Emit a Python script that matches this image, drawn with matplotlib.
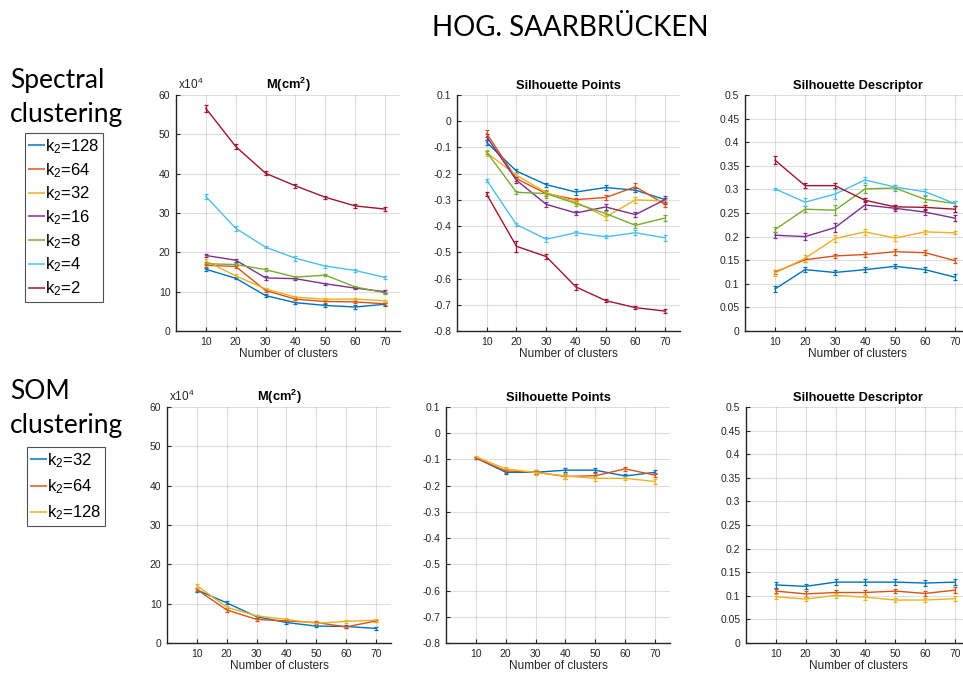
import matplotlib
matplotlib.use("Agg")
import matplotlib.pyplot as plt
from matplotlib.lines import Line2D

plt.rcParams["font.family"] = ["Liberation Sans", "DejaVu Sans"]
plt.rcParams["axes.unicode_minus"] = False
plt.rcParams["mathtext.fontset"] = "custom"
plt.rcParams["mathtext.rm"] = "Liberation Sans"
plt.rcParams["mathtext.it"] = "Liberation Sans:italic"
plt.rcParams["mathtext.bf"] = "Liberation Sans:bold"
plt.rcParams["mathtext.default"] = "regular"

# ---------------- data ----------------
clusters = [10, 20, 30, 40, 50, 60, 70]

spectral_labels = ["k$_2$=128", "k$_2$=64", "k$_2$=32", "k$_2$=16",
                   "k$_2$=8", "k$_2$=4", "k$_2$=2"]
spectral_colors = ["#0072BD", "#D95319", "#EDB120", "#7E2F8E",
                   "#77AC30", "#4DBEEE", "#A2142F"]

# M (cm^2), in units of 1e4
spec_m_128 = [15.7, 13.4, 9.0, 7.2, 6.5, 6.1, 6.8]
spec_m_64 = [16.7, 16.4, 10.3, 8.1, 7.5, 7.4, 6.9]
spec_m_32 = [17.8, 14.0, 10.7, 8.6, 8.1, 8.1, 7.7]
spec_m_16 = [19.2, 18.0, 13.5, 13.3, 12.0, 10.9, 10.0]
spec_m_8 = [17.1, 16.9, 15.6, 13.7, 14.2, 11.2, 9.7]
spec_m_4 = [34.2, 26.1, 21.3, 18.5, 16.5, 15.4, 13.6]
spec_m_2 = [56.6, 46.9, 40.1, 36.9, 34.0, 31.8, 31.0]

spec_m_err_128 = [0.4, 0.3, 0.3, 0.3, 0.3, 0.4, 0.5]
spec_m_err_64 = [0.4, 0.4, 0.3, 0.3, 0.3, 0.3, 0.3]
spec_m_err_32 = [0.5, 0.6, 0.3, 0.3, 0.3, 0.3, 0.3]
spec_m_err_16 = [0.3, 0.4, 0.6, 0.3, 0.3, 0.3, 0.3]
spec_m_err_8 = [0.4, 0.3, 0.3, 0.4, 0.3, 0.3, 0.3]
spec_m_err_4 = [0.7, 0.7, 0.3, 0.6, 0.4, 0.3, 0.4]
spec_m_err_2 = [0.8, 0.6, 0.5, 0.6, 0.4, 0.6, 0.4]

# Silhouette of points
spec_sp_128 = [-0.081, -0.190, -0.242, -0.270, -0.253, -0.263, -0.299]
spec_sp_64 = [-0.047, -0.219, -0.276, -0.299, -0.291, -0.250, -0.317]
spec_sp_32 = [-0.120, -0.206, -0.272, -0.308, -0.365, -0.300, -0.304]
spec_sp_16 = [-0.060, -0.225, -0.317, -0.350, -0.327, -0.356, -0.299]
spec_sp_8 = [-0.118, -0.271, -0.276, -0.314, -0.352, -0.397, -0.369]
spec_sp_4 = [-0.225, -0.394, -0.450, -0.425, -0.441, -0.425, -0.445]
spec_sp_2 = [-0.279, -0.477, -0.516, -0.632, -0.684, -0.711, -0.724]

spec_sp_err_128 = [0.008, 0.008, 0.007, 0.010, 0.009, 0.008, 0.008]
spec_sp_err_64 = [0.012, 0.008, 0.008, 0.008, 0.010, 0.013, 0.010]
spec_sp_err_32 = [0.012, 0.010, 0.008, 0.008, 0.010, 0.012, 0.008]
spec_sp_err_16 = [0.010, 0.012, 0.010, 0.008, 0.010, 0.010, 0.015]
spec_sp_err_8 = [0.006, 0.006, 0.015, 0.008, 0.008, 0.010, 0.010]
spec_sp_err_4 = [0.005, 0.006, 0.010, 0.008, 0.006, 0.010, 0.010]
spec_sp_err_2 = [0.008, 0.022, 0.010, 0.010, 0.006, 0.006, 0.007]

# Silhouette of descriptors
spec_sd_128 = [0.089, 0.130, 0.124, 0.130, 0.137, 0.130, 0.114]
spec_sd_64 = [0.125, 0.151, 0.159, 0.162, 0.168, 0.166, 0.149]
spec_sd_32 = [0.123, 0.154, 0.196, 0.210, 0.197, 0.210, 0.208]
spec_sd_16 = [0.203, 0.200, 0.219, 0.267, 0.260, 0.252, 0.239]
spec_sd_8 = [0.215, 0.258, 0.256, 0.301, 0.303, 0.279, 0.270]
spec_sd_4 = [0.301, 0.273, 0.290, 0.320, 0.305, 0.295, 0.270]
spec_sd_2 = [0.362, 0.308, 0.308, 0.277, 0.263, 0.262, 0.258]

spec_sd_err_128 = [0.007, 0.005, 0.006, 0.005, 0.004, 0.005, 0.006]
spec_sd_err_64 = [0.005, 0.004, 0.004, 0.005, 0.006, 0.006, 0.005]
spec_sd_err_32 = [0.006, 0.007, 0.007, 0.006, 0.006, 0.004, 0.003]
spec_sd_err_16 = [0.006, 0.008, 0.009, 0.008, 0.006, 0.006, 0.007]
spec_sd_err_8 = [0.005, 0.006, 0.010, 0.008, 0.006, 0.006, 0.006]
spec_sd_err_4 = [0.003, 0.008, 0.010, 0.007, 0.005, 0.006, 0.005]
spec_sd_err_2 = [0.008, 0.006, 0.005, 0.004, 0.004, 0.006, 0.006]

som_labels = ["k$_2$=32", "k$_2$=64", "k$_2$=128"]
som_colors = ["#0072BD", "#D95319", "#EDB120"]

som_m_32 = [13.5, 10.2, 6.7, 5.2, 4.3, 4.2, 3.7]
som_m_64 = [13.6, 8.4, 6.0, 5.6, 5.2, 4.1, 5.6]
som_m_128 = [14.6, 9.1, 6.9, 6.0, 5.0, 5.5, 5.8]

som_m_err_32 = [0.5, 0.4, 0.3, 0.3, 0.3, 0.3, 0.3]
som_m_err_64 = [0.5, 0.4, 0.3, 0.3, 0.3, 0.3, 0.3]
som_m_err_128 = [0.5, 0.4, 0.3, 0.3, 0.3, 0.3, 0.4]

som_sp_32 = [-0.094, -0.149, -0.149, -0.141, -0.141, -0.163, -0.149]
som_sp_64 = [-0.095, -0.144, -0.148, -0.165, -0.162, -0.136, -0.160]
som_sp_128 = [-0.090, -0.136, -0.150, -0.163, -0.172, -0.172, -0.184]

som_sp_err_32 = [0.005, 0.008, 0.008, 0.008, 0.008, 0.008, 0.008]
som_sp_err_64 = [0.005, 0.008, 0.008, 0.008, 0.010, 0.008, 0.008]
som_sp_err_128 = [0.005, 0.006, 0.008, 0.010, 0.010, 0.008, 0.010]

som_sd_32 = [0.123, 0.120, 0.129, 0.129, 0.129, 0.127, 0.129]
som_sd_64 = [0.110, 0.104, 0.107, 0.107, 0.110, 0.105, 0.112]
som_sd_128 = [0.098, 0.093, 0.101, 0.097, 0.091, 0.091, 0.094]

som_sd_err_32 = [0.006, 0.006, 0.007, 0.007, 0.007, 0.006, 0.007]
som_sd_err_64 = [0.005, 0.006, 0.005, 0.005, 0.005, 0.005, 0.006]
som_sd_err_128 = [0.005, 0.005, 0.005, 0.005, 0.005, 0.005, 0.005]

spectral_m = [spec_m_128, spec_m_64, spec_m_32, spec_m_16, spec_m_8, spec_m_4, spec_m_2]
spectral_m_err = [spec_m_err_128, spec_m_err_64, spec_m_err_32, spec_m_err_16,
                  spec_m_err_8, spec_m_err_4, spec_m_err_2]
spectral_sp = [spec_sp_128, spec_sp_64, spec_sp_32, spec_sp_16, spec_sp_8, spec_sp_4, spec_sp_2]
spectral_sp_err = [spec_sp_err_128, spec_sp_err_64, spec_sp_err_32, spec_sp_err_16,
                   spec_sp_err_8, spec_sp_err_4, spec_sp_err_2]
spectral_sd = [spec_sd_128, spec_sd_64, spec_sd_32, spec_sd_16, spec_sd_8, spec_sd_4, spec_sd_2]
spectral_sd_err = [spec_sd_err_128, spec_sd_err_64, spec_sd_err_32, spec_sd_err_16,
                   spec_sd_err_8, spec_sd_err_4, spec_sd_err_2]

som_m = [som_m_32, som_m_64, som_m_128]
som_m_err = [som_m_err_32, som_m_err_64, som_m_err_128]
som_sp = [som_sp_32, som_sp_64, som_sp_128]
som_sp_err = [som_sp_err_32, som_sp_err_64, som_sp_err_128]
som_sd = [som_sd_32, som_sd_64, som_sd_128]
som_sd_err = [som_sd_err_32, som_sd_err_64, som_sd_err_128]

m_ticks = [0, 10, 20, 30, 40, 50, 60]
sp_ticks = [0.1, 0, -0.1, -0.2, -0.3, -0.4, -0.5, -0.6, -0.7, -0.8]
sd_ticks = [0, 0.05, 0.1, 0.15, 0.2, 0.25, 0.3, 0.35, 0.4, 0.45, 0.5]

# ---------------- figure ----------------
W, H = 963, 673
fig = plt.figure(figsize=(W / 100, H / 100), dpi=100)
DARK = "#262626"


def px_axes(x0, y0, x1, y1):
    return fig.add_axes([x0 / W, 1 - y1 / H, (x1 - x0) / W, (y1 - y0) / H])


def style(ax, ylim, yticks, title):
    ax.set_xlim(0, 75)
    ax.set_ylim(*ylim)
    ax.set_xticks(clusters)
    ax.set_yticks(yticks)
    ax.set_yticklabels(["%g" % v for v in yticks])
    ax.grid(True, color=DARK, alpha=0.15, lw=0.8)
    ax.set_axisbelow(True)
    for s in ("top", "right"):
        ax.spines[s].set_visible(False)
    for s in ("left", "bottom"):
        ax.spines[s].set_color(DARK)
        ax.spines[s].set_linewidth(1.0)
    ax.tick_params(direction="in", length=3, width=0.8, labelsize=7.5,
                   colors=DARK, pad=4)
    ax.set_xlabel("Number of clusters", fontsize=8.5, color=DARK, labelpad=1)
    ax.set_title(title, fontsize=9.3, fontweight="bold", color="black", pad=4)


def draw(ax, series, errs, colors):
    for y, e, c in zip(series, errs, colors):
        ax.errorbar(clusters, y, yerr=e, color=c, lw=1.0, elinewidth=0.9,
                    capsize=1.6, capthick=0.9)


m_title = r"M(cm$^\mathbf{2}$)"
panels = [
    # (x0, y0, x1, y1), data, errors, colors, ylim, ticks, title
    ((176, 95, 400, 331), spectral_m, spectral_m_err, spectral_colors, (0, 60), m_ticks, m_title),
    ((457, 95, 680, 331), spectral_sp, spectral_sp_err, spectral_colors, (-0.8, 0.1), sp_ticks, "Silhouette Points"),
    ((745, 95, 970, 331), spectral_sd, spectral_sd_err, spectral_colors, (0, 0.5), sd_ticks, "Silhouette Descriptor"),
    ((167, 407, 391, 643), som_m, som_m_err, som_colors, (0, 60), m_ticks, m_title),
    ((446, 407, 670, 643), som_sp, som_sp_err, som_colors, (-0.8, 0.1), sp_ticks, "Silhouette Points"),
    ((746, 407, 970, 643), som_sd, som_sd_err, som_colors, (0, 0.5), sd_ticks, "Silhouette Descriptor"),
]

for rect, data, errs, cols, ylim, ticks, title in panels:
    ax = px_axes(*rect)
    draw(ax, data, errs, cols)
    style(ax, ylim, ticks, title)
    if ylim == (0, 60):
        ax.text(0.01, 1.012, "x10$^4$", transform=ax.transAxes, fontsize=8.5,
                color=DARK, ha="left", va="bottom")

# headline and row labels
fig.text(570 / W, 1 - 28 / H, "HOG. SAARBRÜCKEN", fontsize=20, family="Lato",
         ha="center", va="center")
fig.text(10 / W, 1 - 122 / H, "Spectral\nclustering", fontsize=19, family="Lato",
         ha="left", va="baseline", linespacing=1.45)
fig.text(10 / W, 1 - 433 / H, "SOM\nclustering", fontsize=19, family="Lato",
         ha="left", va="baseline", linespacing=1.45)


def legend(labels, colors, x0, y0, spacing):
    handles = [Line2D([], [], color=c, lw=1.5, alpha=0.75) for c in colors]
    leg = fig.legend(handles, labels, loc="upper left",
                     bbox_to_anchor=(x0 / W, 1 - y0 / H), fontsize=12,
                     handlelength=0.9, handletextpad=0.05, labelspacing=spacing,
                     borderpad=0.25, borderaxespad=0, frameon=True, fancybox=False)
    fr = leg.get_frame()
    fr.set_edgecolor(DARK)
    fr.set_linewidth(0.8)
    return leg


legend(spectral_labels, spectral_colors, 25, 133, 0.3)
legend(som_labels, som_colors, 27, 447, 0.45)

fig.savefig("out.png", dpi=100)
